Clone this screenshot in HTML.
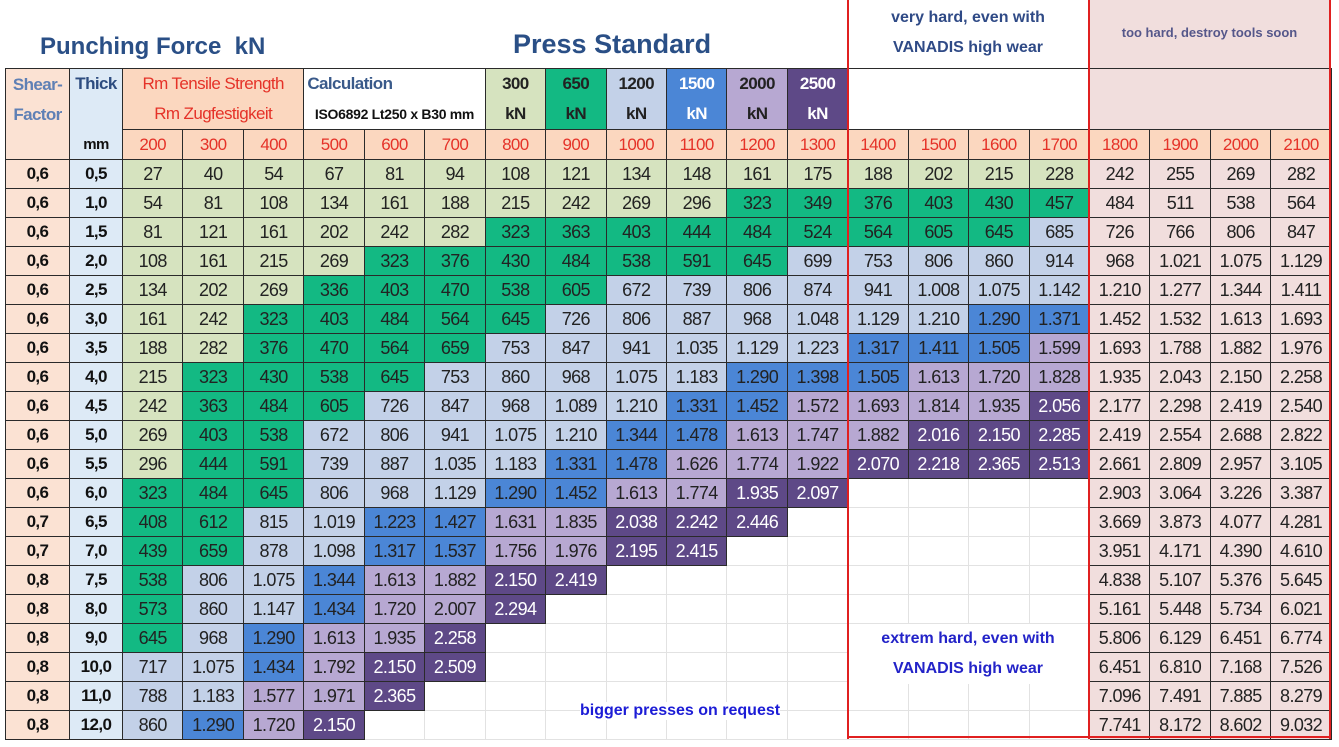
<!DOCTYPE html>
<html><head><meta charset="utf-8">
<style>
html,body{margin:0;padding:0;background:#fff;width:1339px;height:747px;overflow:hidden;position:relative;font-family:"Liberation Sans",sans-serif;}
table{position:absolute;left:5px;top:68px;border-collapse:collapse;table-layout:fixed;width:1326px;}
td{border:1px solid #2a2a2a;padding:0;text-align:center;font-size:18px;color:#222;height:28px;white-space:nowrap;overflow:hidden;letter-spacing:-0.6px;}
.g{background:#d6e3bf}.G{background:#13b983}.b{background:#c3d1e8}.B{background:#4b86d6}
.p{background:#b7a8d2}.P{background:#5e4987;color:#fff}.k{background:#f1dedd}
.e{background:#fff;border-color:#e2e2e2}
.sf{background:#fbe2d3;font-weight:bold;color:#111;font-size:17px}.th{background:#ddeaf6;font-weight:bold;color:#111;font-size:17px}
.o{background:#fbd7bf;color:#e53228;font-size:17px}
.t{position:absolute;font-weight:bold;white-space:nowrap;}
.rl{position:absolute;background:#e02020;}
</style></head><body>
<div class="t" style="left:40px;top:33px;font-size:24px;color:#2a4f86;">Punching Force&nbsp; kN</div>
<div class="t" style="left:513px;top:29px;font-size:27px;color:#2a4f86;">Press Standard</div>
<div class="t" style="left:848px;top:3px;width:240px;text-align:center;font-size:16px;color:#2f4a86;line-height:30px;">very hard, even with<br>VANADIS high wear</div>
<div style="position:absolute;left:1089px;top:0;width:241px;height:68px;background:#f1dedd;"></div>
<div class="t" style="left:1089px;top:25px;width:241px;text-align:center;font-size:13px;color:#55578a;">too hard, destroy tools soon</div>
<table>
<colgroup><col style="width:64px"><col style="width:53px"><col span="20" style="width:60.45px"></colgroup>
<tr style="height:30px">
<td class="sf" rowspan="3" style="color:#5f80b5;vertical-align:top;line-height:30px;padding-top:1px">Shear-<br>Factor</td>
<td class="th" style="color:#2e4d80;border-bottom:none">Thick</td>
<td class="o" colspan="3" style="border-bottom:none">Rm Tensile Strength</td>
<td colspan="3" style="text-align:left;padding-left:3px;font-weight:bold;color:#3a5a8a;border-bottom:none;background:#fff;font-size:17px">Calculation</td>
<td class="g" rowspan="2" style="font-weight:bold;line-height:30px;font-size:17px">300<br>kN</td>
<td class="G" rowspan="2" style="font-weight:bold;line-height:30px;font-size:17px">650<br>kN</td>
<td class="b" rowspan="2" style="font-weight:bold;line-height:30px;font-size:17px">1200<br>kN</td>
<td class="B" rowspan="2" style="font-weight:bold;line-height:30px;color:#fff;font-size:17px">1500<br>kN</td>
<td class="p" rowspan="2" style="font-weight:bold;line-height:30px;font-size:17px">2000<br>kN</td>
<td class="P" rowspan="2" style="font-weight:bold;line-height:30px;font-size:17px">2500<br>kN</td>
<td colspan="4" rowspan="2" style="background:#fff"></td>
<td class="k" colspan="4" rowspan="2"></td>
</tr>
<tr style="height:31px">
<td class="th" style="border-top:none;border-bottom:none"></td>
<td class="o" colspan="3" style="border-top:none">Rm Zugfestigkeit</td>
<td colspan="3" style="font-weight:bold;font-size:14px;color:#111;border-top:none;background:#fff;letter-spacing:-0.3px">ISO6892 Lt250 x B30 mm</td>
</tr>
<tr style="height:30px">
<td class="th" style="border-top:none;font-size:15px">mm</td>
<td class="o">200</td><td class="o">300</td><td class="o">400</td><td class="o">500</td><td class="o">600</td><td class="o">700</td><td class="o">800</td><td class="o">900</td><td class="o">1000</td><td class="o">1100</td><td class="o">1200</td><td class="o">1300</td>
<td class="o">1400</td><td class="o">1500</td><td class="o">1600</td><td class="o">1700</td>
<td class="o">1800</td><td class="o">1900</td><td class="o">2000</td><td class="o">2100</td>
</tr>
<tr><td class="sf">0,6</td><td class="th">0,5</td><td class="g">27</td><td class="g">40</td><td class="g">54</td><td class="g">67</td><td class="g">81</td><td class="g">94</td><td class="g">108</td><td class="g">121</td><td class="g">134</td><td class="g">148</td><td class="g">161</td><td class="g">175</td><td class="g">188</td><td class="g">202</td><td class="g">215</td><td class="g">228</td><td class="k">242</td><td class="k">255</td><td class="k">269</td><td class="k">282</td></tr>
<tr><td class="sf">0,6</td><td class="th">1,0</td><td class="g">54</td><td class="g">81</td><td class="g">108</td><td class="g">134</td><td class="g">161</td><td class="g">188</td><td class="g">215</td><td class="g">242</td><td class="g">269</td><td class="g">296</td><td class="G">323</td><td class="G">349</td><td class="G">376</td><td class="G">403</td><td class="G">430</td><td class="G">457</td><td class="k">484</td><td class="k">511</td><td class="k">538</td><td class="k">564</td></tr>
<tr><td class="sf">0,6</td><td class="th">1,5</td><td class="g">81</td><td class="g">121</td><td class="g">161</td><td class="g">202</td><td class="g">242</td><td class="g">282</td><td class="G">323</td><td class="G">363</td><td class="G">403</td><td class="G">444</td><td class="G">484</td><td class="G">524</td><td class="G">564</td><td class="G">605</td><td class="G">645</td><td class="b">685</td><td class="k">726</td><td class="k">766</td><td class="k">806</td><td class="k">847</td></tr>
<tr><td class="sf">0,6</td><td class="th">2,0</td><td class="g">108</td><td class="g">161</td><td class="g">215</td><td class="g">269</td><td class="G">323</td><td class="G">376</td><td class="G">430</td><td class="G">484</td><td class="G">538</td><td class="G">591</td><td class="G">645</td><td class="b">699</td><td class="b">753</td><td class="b">806</td><td class="b">860</td><td class="b">914</td><td class="k">968</td><td class="k">1.021</td><td class="k">1.075</td><td class="k">1.129</td></tr>
<tr><td class="sf">0,6</td><td class="th">2,5</td><td class="g">134</td><td class="g">202</td><td class="g">269</td><td class="G">336</td><td class="G">403</td><td class="G">470</td><td class="G">538</td><td class="G">605</td><td class="b">672</td><td class="b">739</td><td class="b">806</td><td class="b">874</td><td class="b">941</td><td class="b">1.008</td><td class="b">1.075</td><td class="b">1.142</td><td class="k">1.210</td><td class="k">1.277</td><td class="k">1.344</td><td class="k">1.411</td></tr>
<tr><td class="sf">0,6</td><td class="th">3,0</td><td class="g">161</td><td class="g">242</td><td class="G">323</td><td class="G">403</td><td class="G">484</td><td class="G">564</td><td class="G">645</td><td class="b">726</td><td class="b">806</td><td class="b">887</td><td class="b">968</td><td class="b">1.048</td><td class="b">1.129</td><td class="b">1.210</td><td class="B">1.290</td><td class="B">1.371</td><td class="k">1.452</td><td class="k">1.532</td><td class="k">1.613</td><td class="k">1.693</td></tr>
<tr><td class="sf">0,6</td><td class="th">3,5</td><td class="g">188</td><td class="g">282</td><td class="G">376</td><td class="G">470</td><td class="G">564</td><td class="G">659</td><td class="b">753</td><td class="b">847</td><td class="b">941</td><td class="b">1.035</td><td class="b">1.129</td><td class="b">1.223</td><td class="B">1.317</td><td class="B">1.411</td><td class="B">1.505</td><td class="p">1.599</td><td class="k">1.693</td><td class="k">1.788</td><td class="k">1.882</td><td class="k">1.976</td></tr>
<tr><td class="sf">0,6</td><td class="th">4,0</td><td class="g">215</td><td class="G">323</td><td class="G">430</td><td class="G">538</td><td class="G">645</td><td class="b">753</td><td class="b">860</td><td class="b">968</td><td class="b">1.075</td><td class="b">1.183</td><td class="B">1.290</td><td class="B">1.398</td><td class="B">1.505</td><td class="p">1.613</td><td class="p">1.720</td><td class="p">1.828</td><td class="k">1.935</td><td class="k">2.043</td><td class="k">2.150</td><td class="k">2.258</td></tr>
<tr><td class="sf">0,6</td><td class="th">4,5</td><td class="g">242</td><td class="G">363</td><td class="G">484</td><td class="G">605</td><td class="b">726</td><td class="b">847</td><td class="b">968</td><td class="b">1.089</td><td class="b">1.210</td><td class="B">1.331</td><td class="B">1.452</td><td class="p">1.572</td><td class="p">1.693</td><td class="p">1.814</td><td class="p">1.935</td><td class="P">2.056</td><td class="k">2.177</td><td class="k">2.298</td><td class="k">2.419</td><td class="k">2.540</td></tr>
<tr><td class="sf">0,6</td><td class="th">5,0</td><td class="g">269</td><td class="G">403</td><td class="G">538</td><td class="b">672</td><td class="b">806</td><td class="b">941</td><td class="b">1.075</td><td class="b">1.210</td><td class="B">1.344</td><td class="B">1.478</td><td class="p">1.613</td><td class="p">1.747</td><td class="p">1.882</td><td class="P">2.016</td><td class="P">2.150</td><td class="P">2.285</td><td class="k">2.419</td><td class="k">2.554</td><td class="k">2.688</td><td class="k">2.822</td></tr>
<tr><td class="sf">0,6</td><td class="th">5,5</td><td class="g">296</td><td class="G">444</td><td class="G">591</td><td class="b">739</td><td class="b">887</td><td class="b">1.035</td><td class="b">1.183</td><td class="B">1.331</td><td class="B">1.478</td><td class="p">1.626</td><td class="p">1.774</td><td class="p">1.922</td><td class="P">2.070</td><td class="P">2.218</td><td class="P">2.365</td><td class="P">2.513</td><td class="k">2.661</td><td class="k">2.809</td><td class="k">2.957</td><td class="k">3.105</td></tr>
<tr><td class="sf">0,6</td><td class="th">6,0</td><td class="G">323</td><td class="G">484</td><td class="G">645</td><td class="b">806</td><td class="b">968</td><td class="b">1.129</td><td class="B">1.290</td><td class="B">1.452</td><td class="p">1.613</td><td class="p">1.774</td><td class="P">1.935</td><td class="P">2.097</td><td class="e"></td><td class="e"></td><td class="e"></td><td class="e"></td><td class="k">2.903</td><td class="k">3.064</td><td class="k">3.226</td><td class="k">3.387</td></tr>
<tr><td class="sf">0,7</td><td class="th">6,5</td><td class="G">408</td><td class="G">612</td><td class="b">815</td><td class="b">1.019</td><td class="B">1.223</td><td class="B">1.427</td><td class="p">1.631</td><td class="p">1.835</td><td class="P">2.038</td><td class="P">2.242</td><td class="P">2.446</td><td class="e"></td><td class="e"></td><td class="e"></td><td class="e"></td><td class="e"></td><td class="k">3.669</td><td class="k">3.873</td><td class="k">4.077</td><td class="k">4.281</td></tr>
<tr><td class="sf">0,7</td><td class="th">7,0</td><td class="G">439</td><td class="G">659</td><td class="b">878</td><td class="b">1.098</td><td class="B">1.317</td><td class="B">1.537</td><td class="p">1.756</td><td class="p">1.976</td><td class="P">2.195</td><td class="P">2.415</td><td class="e"></td><td class="e"></td><td class="e"></td><td class="e"></td><td class="e"></td><td class="e"></td><td class="k">3.951</td><td class="k">4.171</td><td class="k">4.390</td><td class="k">4.610</td></tr>
<tr><td class="sf">0,8</td><td class="th">7,5</td><td class="G">538</td><td class="b">806</td><td class="b">1.075</td><td class="B">1.344</td><td class="p">1.613</td><td class="p">1.882</td><td class="P">2.150</td><td class="P">2.419</td><td class="e"></td><td class="e"></td><td class="e"></td><td class="e"></td><td class="e"></td><td class="e"></td><td class="e"></td><td class="e"></td><td class="k">4.838</td><td class="k">5.107</td><td class="k">5.376</td><td class="k">5.645</td></tr>
<tr><td class="sf">0,8</td><td class="th">8,0</td><td class="G">573</td><td class="b">860</td><td class="b">1.147</td><td class="B">1.434</td><td class="p">1.720</td><td class="p">2.007</td><td class="P">2.294</td><td class="e"></td><td class="e"></td><td class="e"></td><td class="e"></td><td class="e"></td><td class="e"></td><td class="e"></td><td class="e"></td><td class="e"></td><td class="k">5.161</td><td class="k">5.448</td><td class="k">5.734</td><td class="k">6.021</td></tr>
<tr><td class="sf">0,8</td><td class="th">9,0</td><td class="G">645</td><td class="b">968</td><td class="B">1.290</td><td class="p">1.613</td><td class="p">1.935</td><td class="P">2.258</td><td class="e"></td><td class="e"></td><td class="e"></td><td class="e"></td><td class="e"></td><td class="e"></td><td class="e"></td><td class="e"></td><td class="e"></td><td class="e"></td><td class="k">5.806</td><td class="k">6.129</td><td class="k">6.451</td><td class="k">6.774</td></tr>
<tr><td class="sf">0,8</td><td class="th">10,0</td><td class="b">717</td><td class="b">1.075</td><td class="B">1.434</td><td class="p">1.792</td><td class="P">2.150</td><td class="P">2.509</td><td class="e"></td><td class="e"></td><td class="e"></td><td class="e"></td><td class="e"></td><td class="e"></td><td class="e"></td><td class="e"></td><td class="e"></td><td class="e"></td><td class="k">6.451</td><td class="k">6.810</td><td class="k">7.168</td><td class="k">7.526</td></tr>
<tr><td class="sf">0,8</td><td class="th">11,0</td><td class="b">788</td><td class="b">1.183</td><td class="p">1.577</td><td class="p">1.971</td><td class="P">2.365</td><td class="e"></td><td class="e"></td><td class="e"></td><td class="e"></td><td class="e"></td><td class="e"></td><td class="e"></td><td class="e"></td><td class="e"></td><td class="e"></td><td class="e"></td><td class="k">7.096</td><td class="k">7.491</td><td class="k">7.885</td><td class="k">8.279</td></tr>
<tr><td class="sf">0,8</td><td class="th">12,0</td><td class="b">860</td><td class="B">1.290</td><td class="p">1.720</td><td class="P">2.150</td><td class="e"></td><td class="e"></td><td class="e"></td><td class="e"></td><td class="e"></td><td class="e"></td><td class="e"></td><td class="e"></td><td class="e"></td><td class="e"></td><td class="e"></td><td class="e"></td><td class="k">7.741</td><td class="k">8.172</td><td class="k">8.602</td><td class="k">9.032</td></tr>
</table>
<div class="t" style="left:848px;top:624px;width:240px;text-align:center;font-size:16px;color:#2323c8;line-height:30px;background:#fff;">extrem hard, even with<br>VANADIS high wear</div>
<div class="t" style="left:580px;top:702px;font-size:16px;color:#1c1cd6;background:#fff;">bigger presses on request</div>
<div class="rl" style="left:847px;top:0;width:2px;height:739px;"></div>
<div class="rl" style="left:1088px;top:0;width:2px;height:739px;"></div>
<div class="rl" style="left:1329px;top:0;width:2px;height:739px;"></div>
<div class="rl" style="left:847px;top:736px;width:484px;height:2px;"></div>
</body></html>
